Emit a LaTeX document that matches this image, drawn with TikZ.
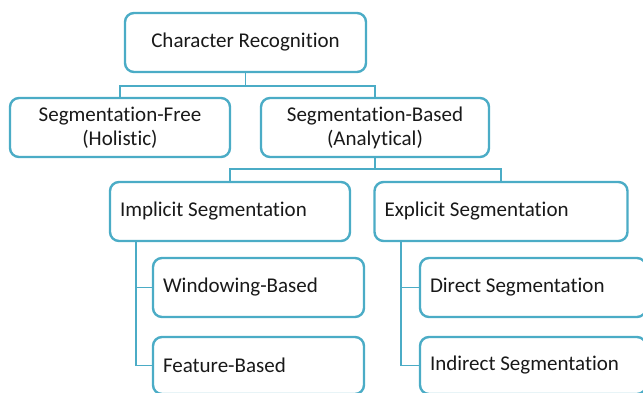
\documentclass[tikz,border=0pt]{standalone}
\usepackage{fontspec}
\setmainfont{Carlito}[Ligatures=NoCommon]
\definecolor{boxblue}{RGB}{75,172,198}
\definecolor{ink}{RGB}{25,25,25}
\begin{document}
\begin{tikzpicture}[x=1pt,y=-1pt,
  box/.style={draw=boxblue, line width=2.4pt, rounded corners=9pt, fill=white,
    text=ink, inner sep=0pt, font=\fontsize{21}{24}\selectfont},
  cbox/.style={box, align=flush center},
  lbox/.style={box, align=flush left},
  link/.style={draw=boxblue, line width=1.8pt}]
\useasboundingbox (0,0) rectangle (643,392);

% level 0
\node[cbox, minimum width=241pt, minimum height=59pt] (root) at (245.5,42.5) {Character Recognition};

% level 1
\node[cbox, minimum width=220pt, minimum height=59pt] (free) at (120,127.5) {Segmentation-Free\\(Holistic)};
\node[cbox, minimum width=228pt, minimum height=59pt] (based) at (375,127.5) {Segmentation-Based\\(Analytical)};

% level 2
\node[lbox, minimum width=240pt, minimum height=59pt, text width=220pt] (impl) at (230,211.5) {Implicit Segmentation};
\node[lbox, minimum width=253pt, minimum height=59pt, text width=233pt] (expl) at (501,211.5) {Explicit Segmentation};

% level 3
\node[lbox, minimum width=211pt, minimum height=59pt, text width=191pt] (wind) at (258.5,287.5) {Windowing-Based};
\node[lbox, minimum width=211pt, minimum height=57pt, text width=191pt] (feat) at (258.5,365.5) {Feature-Based};
\node[lbox, minimum width=226pt, minimum height=59pt, text width=206pt] (dir) at (533,287.5) {Direct Segmentation};
\node[lbox, minimum width=226pt, minimum height=57pt, text width=206pt] (ind) at (533,365.5) {Indirect Segmentation};

% connectors between levels
\coordinate (j0) at (245.5,86);
\coordinate (j1) at (375,169);
\draw[link] (root.south) -- (j0);
\draw[link] (free.north) |- (j0) -| (based.north);
\draw[link] (based.south) -- (j1);
\draw[link] (impl.north) |- (j1) -| (expl.north);

% side trunks
\coordinate (ti) at (136,241);
\coordinate (te) at (401,241);
\draw[link] (ti) |- (wind.west);
\draw[link] (ti) |- (feat.west);
\draw[link] (te) |- (dir.west);
\draw[link] (te) |- (ind.west);
\end{tikzpicture}
\end{document}
